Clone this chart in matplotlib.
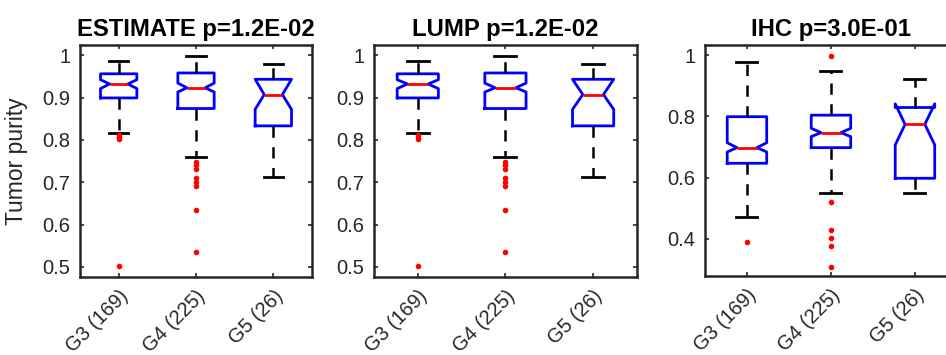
#!/usr/bin/env python3
"""Tumor purity by grade: notched boxplots for three purity estimates."""

import matplotlib
matplotlib.use("Agg")
import matplotlib.pyplot as plt

plt.rcParams['font.family'] = ['Liberation Sans', 'DejaVu Sans']

groups = ['G3 (169)', 'G4 (225)', 'G5 (26)']

# ESTIMATE
est_title = 'ESTIMATE p=1.2E-02'
est_whislo = [0.815, 0.760, 0.712]
est_q1 = [0.899, 0.874, 0.833]
est_cilo = [0.921, 0.913, 0.872]
est_med = [0.932, 0.923, 0.907]
est_cihi = [0.942, 0.934, 0.943]
est_q3 = [0.956, 0.958, 0.943]
est_whishi = [0.986, 0.998, 0.978]
est_fliers = [[0.811, 0.806, 0.801, 0.502],
              [0.748, 0.740, 0.731, 0.709, 0.700, 0.692, 0.635, 0.536],
              []]

# LUMP
lump_title = 'LUMP p=1.2E-02'
lump_whislo = [0.815, 0.760, 0.712]
lump_q1 = [0.899, 0.874, 0.833]
lump_cilo = [0.921, 0.913, 0.872]
lump_med = [0.932, 0.923, 0.907]
lump_cihi = [0.942, 0.934, 0.943]
lump_q3 = [0.956, 0.958, 0.943]
lump_whishi = [0.986, 0.998, 0.978]
lump_fliers = [[0.811, 0.806, 0.801, 0.502],
               [0.748, 0.740, 0.731, 0.709, 0.700, 0.692, 0.635, 0.536],
               []]

# IHC
ihc_title = 'IHC p=3.0E-01'
ihc_whislo = [0.473, 0.549, 0.549]
ihc_q1 = [0.647, 0.698, 0.598]
ihc_cilo = [0.684, 0.734, 0.707]
ihc_med = [0.698, 0.747, 0.774]
ihc_cihi = [0.714, 0.761, 0.841]
ihc_q3 = [0.799, 0.804, 0.829]
ihc_whishi = [0.978, 0.948, 0.921]
ihc_fliers = [[0.391],
              [0.997, 0.520, 0.429, 0.404, 0.378, 0.310],
              []]


def make_stats(whislo, q1, cilo, med, cihi, q3, whishi, fliers):
    stats = []
    for i in range(len(groups)):
        stats.append(dict(whislo=whislo[i], q1=q1[i], cilo=cilo[i], med=med[i],
                          cihi=cihi[i], q3=q3[i], whishi=whishi[i],
                          fliers=fliers[i], label=groups[i]))
    return stats


def draw_panel(ax, stats, title, ylim, yticks):
    ax.bxp(stats, positions=[1, 2, 3], widths=0.47, capwidths=0.25,
           shownotches=True, showfliers=True,
           boxprops=dict(color='#0000ff', linewidth=2),
           medianprops=dict(color='#ff0000', linewidth=2),
           whiskerprops=dict(color='black', linewidth=1.8, linestyle=(0, (4.5, 3.8))),
           capprops=dict(color='black', linewidth=2),
           flierprops=dict(marker='o', markerfacecolor='#ff0000',
                           markeredgecolor='none', markersize=4))
    ax.set_xlim(0.5, 3.5)
    ax.set_ylim(*ylim)
    ax.set_yticks(yticks)
    ax.set_yticklabels([f'{t:g}' for t in yticks])
    ax.set_xticks([1, 2, 3])
    ax.set_xticklabels(groups, rotation=45, ha='right', va='top',
                       rotation_mode='anchor')
    ax.tick_params(direction='in', top=True, right=True, length=3, width=1.2,
                   colors='#262626', labelsize=14.5, pad=7)
    for sp in ax.spines.values():
        sp.set_linewidth(1.8)
        sp.set_color('#262626')
    ax.set_title(title, fontsize=17.2, fontweight='bold', pad=6.5)


fig = plt.figure(figsize=(9.46, 3.55), dpi=100)
ax1 = fig.add_axes([0.0846, 0.2197, 0.2452, 0.6535])
ax2 = fig.add_axes([0.3953, 0.2197, 0.2780, 0.6535])
ax3 = fig.add_axes([0.7452, 0.2225, 0.2664, 0.6507])

draw_panel(ax1, make_stats(est_whislo, est_q1, est_cilo, est_med, est_cihi,
                           est_q3, est_whishi, est_fliers),
           est_title, (0.476, 1.024), [0.5, 0.6, 0.7, 0.8, 0.9, 1])
draw_panel(ax2, make_stats(lump_whislo, lump_q1, lump_cilo, lump_med, lump_cihi,
                           lump_q3, lump_whishi, lump_fliers),
           lump_title, (0.476, 1.024), [0.5, 0.6, 0.7, 0.8, 0.9, 1])
draw_panel(ax3, make_stats(ihc_whislo, ihc_q1, ihc_cilo, ihc_med, ihc_cihi,
                           ihc_q3, ihc_whishi, ihc_fliers),
           ihc_title, (0.279, 1.033), [0.4, 0.6, 0.8, 1])

ax1.set_ylabel('Tumor purity', fontsize=16.5, color='#262626')
ax1.yaxis.set_label_coords(-0.224, 0.5)

fig.savefig('out.png', dpi=100)
